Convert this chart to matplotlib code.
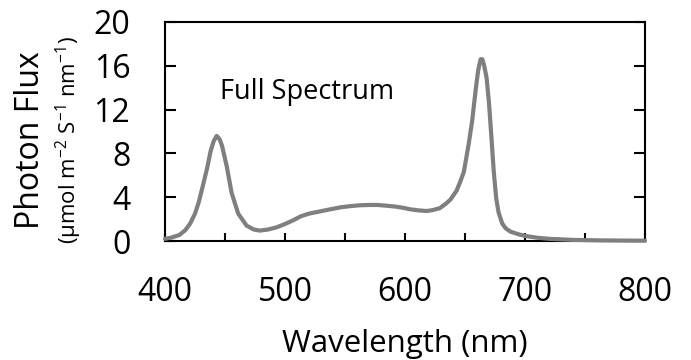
import matplotlib
matplotlib.use('Agg')
import matplotlib.pyplot as plt
from matplotlib.ticker import MultipleLocator

plt.rcParams['font.family'] = ['Open Sans', 'DejaVu Sans']
plt.rcParams['mathtext.fontset'] = 'custom'
plt.rcParams['mathtext.rm'] = 'Open Sans'
plt.rcParams['mathtext.default'] = 'regular'

# spectrum
wavelength = [400, 405, 412, 417, 421, 425, 428, 431, 435, 438, 440.5, 443, 445.5, 447.5,
              451.5, 455.5, 461, 468, 474, 479, 486, 493, 500, 507, 513, 520, 529, 538,
              546, 554, 562, 570, 577, 585, 593, 600, 604, 611, 618, 623, 629, 634, 638,
              643, 646, 649, 653, 656, 659, 661, 663, 664.5, 666, 668, 670, 672, 674, 676,
              678, 681, 684, 688, 695, 701, 710, 720, 740, 760, 780, 800]
flux = [0.2, 0.3, 0.55, 1.0, 1.6, 2.5, 3.5, 4.8, 6.6, 8.2, 9.1, 9.6, 9.3, 8.7,
        6.8, 4.4, 2.5, 1.4, 1.05, 0.95, 1.05, 1.25, 1.55, 1.9, 2.25, 2.5, 2.7, 2.9,
        3.07, 3.18, 3.26, 3.29, 3.29, 3.22, 3.13, 3.0, 2.9, 2.8, 2.74, 2.82, 3.0, 3.4, 3.8,
        4.6, 5.4, 6.3, 8.8, 11.0, 13.9, 15.6, 16.6, 16.6, 16.0, 14.9, 12.6, 9.5, 6.3, 3.9,
        2.6, 1.6, 1.15, 0.85, 0.6, 0.45, 0.3, 0.2, 0.1, 0.06, 0.04, 0.03]

x_ticks = [400, 500, 600, 700, 800]
y_ticks = [0, 4, 8, 12, 16, 20]

fig = plt.figure(figsize=(6.91, 3.60), dpi=100)
ax = fig.add_axes([165/691, 1 - 241/360, 480/691, 219/360])

ax.plot(wavelength, flux, color='#7f7f7f', linewidth=3, solid_capstyle='round',
        solid_joinstyle='round', clip_on=False, zorder=3)

ax.set_xlim(400, 800)
ax.set_ylim(0, 20)
ax.set_xticks(x_ticks)
ax.xaxis.set_minor_locator(MultipleLocator(50))
ax.set_yticks(y_ticks)

for s in ['left', 'right', 'top', 'bottom']:
    ax.spines[s].set_linewidth(1.5)

ax.tick_params(axis='x', which='both', direction='in', length=6, width=1.5,
               labelsize=23, pad=25, top=False)
ax.tick_params(axis='y', which='both', direction='in', length=8, width=1.5,
               labelsize=23, pad=25, right=True)

ax.text(445.8, 12.95, 'Full Spectrum', fontsize=19.5, ha='left', va='baseline')

fig.text(39/691, 1 - 140/360, 'Photon Flux', rotation=90, rotation_mode='anchor',
         ha='center', va='baseline', fontsize=23)
fig.text(76/691, 1 - 140/360, r'(µmol m$^{-2}$ S$^{-1}$ nm$^{-1}$)', rotation=90,
         rotation_mode='anchor', ha='center', va='baseline', fontsize=16)
fig.text(405/691, 1 - 352/360, 'Wavelength (nm)', ha='center', va='baseline', fontsize=22.5)

fig.savefig('out.png', dpi=100)
